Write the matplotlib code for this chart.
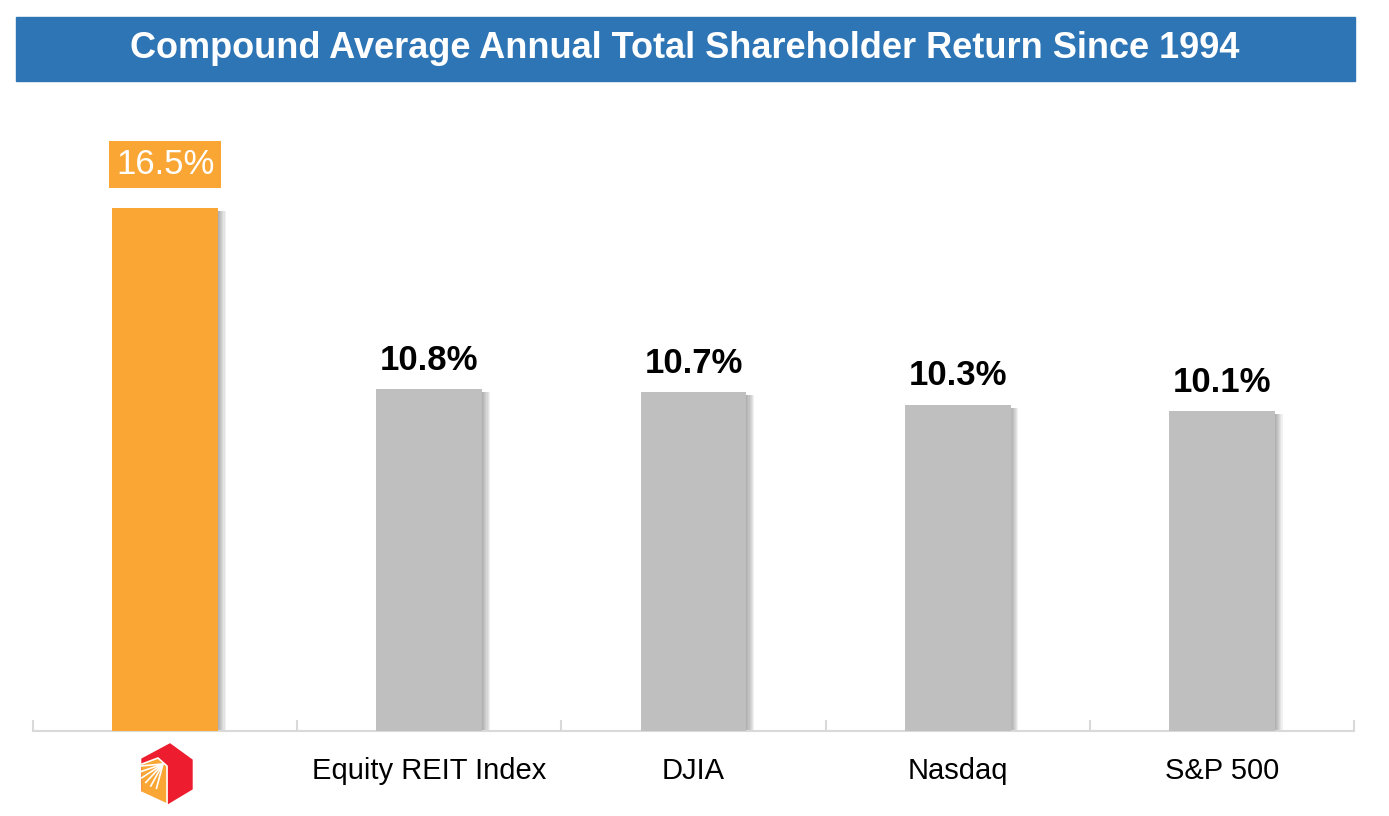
import matplotlib.pyplot as plt
import matplotlib.patches as mpatches
import matplotlib.transforms as mtransforms
import numpy as np

# chart data
categories = ["", "Equity REIT Index", "DJIA", "Nasdaq", "S&P 500"]
returns = [16.5, 10.8, 10.7, 10.3, 10.1]
value_labels = ["16.5%", "10.8%", "10.7%", "10.3%", "10.1%"]
bar_colors = ["#F9A635", "#BFBFBF", "#BFBFBF", "#BFBFBF", "#BFBFBF"]

title = "Compound Average Annual Total Shareholder Return Since 1994"

W, H = 1389, 816
fig = plt.figure(figsize=(W / 100, H / 100), dpi=100)
plt.rcParams['font.family'] = ['Liberation Sans', 'DejaVu Sans']


def fx(px):
    return px / W


def fy(py):
    return 1 - py / H


# title banner
fig.patches.append(mpatches.Rectangle((fx(16), fy(81)), fx(1355) - fx(16), fy(17) - fy(81),
                                      transform=fig.transFigure, color="#2E75B6", zorder=0))
fig.text(fx(685), fy(49), title, color="white", fontsize=26, fontweight="bold",
         ha="center", va="center")

# main axes
ax = fig.add_axes([fx(33), fy(731), fx(1354) - fx(33), fy(100) - fy(731)])
x = np.arange(len(categories))
scale = (731 - 208) / returns[0]  # px per unit
ax.set_ylim(0, (731 - 100) / scale)
ax.set_xlim(-0.5, len(categories) - 0.5)

bw = 0.4
# soft drop shadow on the right of each bar
shadow_top = np.array(returns) - 3 / scale
for k in range(7):
    off = 0.003 + k * 0.0045
    ax.bar(x + off, shadow_top, width=bw, color="#606060", alpha=0.09, zorder=1)
ax.bar(x, returns, width=bw, color=bar_colors, zorder=3)

for i, (v, lab) in enumerate(zip(returns, value_labels)):
    if i == 0:
        ax.text(i, v + 1.37, lab, ha="center", va="center", fontsize=25, color="white",
                bbox=dict(boxstyle="square,pad=0.2", fc="#F9A635", ec="none"), zorder=4)
    else:
        ax.text(i, v + 0.9, lab, ha="center", va="center", fontsize=25,
                fontweight="bold", color="black", zorder=4)

for s in ["top", "left", "right"]:
    ax.spines[s].set_visible(False)
ax.spines["bottom"].set_color("#D9D9D9")
ax.spines["bottom"].set_linewidth(1.5)
ax.set_yticks([])
ax.set_xticks(np.arange(-0.5, len(categories), 1.0))
ax.set_xticklabels([])
ax.tick_params(axis="x", direction="in", length=8, width=1.5, color="#D9D9D9")

trans = mtransforms.blended_transform_factory(ax.transData, fig.transFigure)
for i, c in enumerate(categories):
    ax.text(i, fy(771), c, transform=trans, ha="center", va="center", fontsize=21,
            color="black")

# logo (drawn in pixel space)
lax = fig.add_axes([fx(135), fy(807), fx(196) - fx(135), fy(741) - fy(807)])
lax.set_xlim(135, 196)
lax.set_ylim(807, 741)
lax.axis("off")
hexagon = [(170, 744), (192, 760), (192, 789), (167, 804), (142, 792), (142, 759)]
lax.add_patch(mpatches.Polygon(hexagon, closed=True, color="#ED1C2E"))
face = [(142, 765), (158, 759), (167, 767), (167, 804), (142, 792)]
lax.add_patch(mpatches.Polygon(face, closed=True, color="#F9A635"))
cx, cy = 163, 764
for ang in np.linspace(105, 175, 6):
    a = np.radians(ang)
    lax.plot([cx, cx + 26 * np.cos(a)], [cy, cy + 26 * np.sin(a)], color="white", lw=1.2,
             solid_capstyle="butt")
lax.plot([142, 158, 167, 167], [764, 758, 766, 804], color="white", lw=1.2)
lax.add_patch(mpatches.Polygon([(141, 792), (141, 808), (168, 808), (167, 804)], closed=True,
                               color="white"))

fig.savefig("out.png", dpi=100)
